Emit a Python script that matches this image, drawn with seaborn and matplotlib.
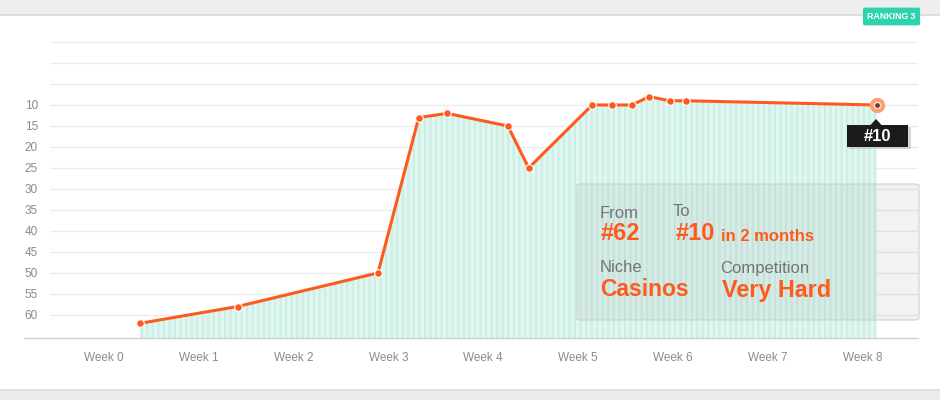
import numpy as np
import pandas as pd
import matplotlib
matplotlib.use("Agg")
import matplotlib.pyplot as plt
from matplotlib.patches import Rectangle, FancyBboxPatch, Polygon
from matplotlib.lines import Line2D
import seaborn as sns

# data (x in weeks, y = ranking position)
week_pos = [0.38, 1.41, 2.89, 3.32, 3.62, 4.26, 4.48, 5.15, 5.36, 5.57, 5.75, 5.97, 6.14, 8.15]
ranking = [62, 58, 50, 13, 12, 15, 25, 10, 10, 10, 8, 9, 9, 10]
week_ticks = list(range(9))
week_labels = ["Week " + str(w) for w in week_ticks]
rank_ticks = list(range(-5, 61, 5))
rank_labels = [str(r) if r >= 10 else "" for r in rank_ticks]

df = pd.DataFrame({"week": week_pos, "rank": ranking})

W, H = 940, 400
ORANGE = "#ff5a1e"
GREY_TXT = "#8a8a8a"

sns.set_theme(style="white")
plt.rcParams["font.family"] = ["Liberation Sans", "DejaVu Sans"]
plt.rcParams["hatch.linewidth"] = 1.6

fig = plt.figure(figsize=(W / 100, H / 100), dpi=100)


def fx(px):
    return px / W


def fy(py):
    return 1 - py / H


# axes placed in pixel coords: left 50, right 918, top 42, bottom 338
ax = fig.add_axes([fx(50), fy(338), fx(918) - fx(50), fy(42) - fy(338)])

# striped teal area under the line
ax.fill_between(df["week"], df["rank"], 65.5, facecolor="#e0f7f1",
                edgecolor="#cdeee5", hatch="|||", linewidth=0, zorder=1)

sns.lineplot(data=df, x="week", y="rank", ax=ax, color=ORANGE, lw=2.2,
             marker="o", markersize=5.5, markeredgecolor="white",
             markeredgewidth=0.8, zorder=3)

# highlighted last point
ax.plot(df["week"].iloc[-1], df["rank"].iloc[-1], "o", ms=10, color="#fc9f75",
        mec="#fc9f75", zorder=4)
ax.plot(df["week"].iloc[-1], df["rank"].iloc[-1], "o", ms=4.5, color="#86371f",
        mec="#fde3d6", mew=1, zorder=5)

ax.set_xlim(-0.57, 8.587)
ax.set_ylim(65.5, -5)
ax.set_xlabel("")
ax.set_ylabel("")

# grid
ax.set_yticks(rank_ticks)
ax.set_yticklabels(rank_labels)
ax.yaxis.grid(True, color="#ececec", lw=1)
ax.xaxis.grid(False)
ax.set_xticks(week_ticks)
ax.set_xticklabels(week_labels)
ax.tick_params(axis="y", length=0, pad=8.6, labelsize=8.5, labelcolor=GREY_TXT)
ax.tick_params(axis="x", length=0, pad=10, labelsize=8.5, labelcolor=GREY_TXT)
for side in ["top", "right", "left"]:
    ax.spines[side].set_visible(False)
ax.spines["bottom"].set_color("#cfcfcf")
ax.spines["bottom"].set_linewidth(1)

# page chrome: top & bottom grey bands
fig.add_artist(Rectangle((0, fy(15)), 1, 15 / H, transform=fig.transFigure,
                         facecolor="#eeeeee", edgecolor="none", zorder=0))
fig.add_artist(Line2D([0, 1], [fy(15), fy(15)], transform=fig.transFigure,
                      color="#d8d8d8", lw=1.2))
fig.add_artist(Rectangle((0, 0), 1, 10 / H, transform=fig.transFigure,
                         facecolor="#ececec", edgecolor="none", zorder=0))
fig.add_artist(Line2D([0, 1], [fy(390), fy(390)], transform=fig.transFigure,
                      color="#dcdcdc", lw=1.2))
# bottom rule extends left of the plot
fig.add_artist(Line2D([fx(24), fx(50)], [fy(338), fy(338)], transform=fig.transFigure,
                      color="#cfcfcf", lw=1))

# ranking badge
fig.text(fx(891.5), fy(16.5), "RANKING 3", ha="center", va="center", fontsize=6.3,
         fontweight="bold", color="white",
         bbox=dict(boxstyle="round,pad=0.5,rounding_size=0.2", fc="#2ed3ae", ec="none"))

# summary box
fig.add_artist(FancyBboxPatch((fx(577), fy(320)), fx(919) - fx(577), fy(184) - fy(320),
                              boxstyle="round,pad=0,rounding_size=0.004",
                              transform=fig.transFigure, facecolor="#9e9e9e",
                              alpha=0.13, edgecolor="none", zorder=6))
fig.add_artist(FancyBboxPatch((fx(577), fy(320)), fx(919) - fx(577), fy(184) - fy(320),
                              boxstyle="round,pad=0,rounding_size=0.004",
                              transform=fig.transFigure, facecolor="none",
                              edgecolor="#cfcfcf", lw=0.8, zorder=6))

fig.text(fx(600), fy(213), "From", ha="left", va="center", fontsize=12, color="#747474", zorder=7)
fig.text(fx(673), fy(212), "To", ha="left", va="center", fontsize=12, color="#747474", zorder=7)
fig.text(fx(601), fy(234), "#62", ha="left", va="center", fontsize=17, fontweight="bold",
         color=ORANGE, zorder=7)
fig.text(fx(676), fy(234), "#10", ha="left", va="center", fontsize=17, fontweight="bold",
         color=ORANGE, zorder=7)
fig.text(fx(721), fy(236.5), "in 2 months", ha="left", va="center", fontsize=12,
         fontweight="bold", color=ORANGE, zorder=7)
fig.text(fx(600), fy(268), "Niche", ha="left", va="center", fontsize=12, color="#747474", zorder=7)
fig.text(fx(720), fy(268), "Competition", ha="left", va="center", fontsize=12,
         color="#747474", zorder=7)
fig.text(fx(600), fy(290), "Casinos", ha="left", va="center", fontsize=16.5, fontweight="bold",
         color=ORANGE, zorder=7)
fig.text(fx(722), fy(290), "Very Hard", ha="left", va="center", fontsize=16.8, fontweight="bold",
         color=ORANGE, zorder=7)

# tooltip for last point
fig.add_artist(Rectangle((fx(849), fy(149)), fx(62), 22 / H, transform=fig.transFigure,
                         facecolor="#bbbbbb", edgecolor="none", alpha=0.6, zorder=8))
fig.add_artist(Rectangle((fx(847), fy(147)), fx(61), 22 / H, transform=fig.transFigure,
                         facecolor="#1b1b1b", edgecolor="none", zorder=9))
fig.add_artist(Polygon([(fx(870), fy(125.5)), (fx(882), fy(125.5)), (fx(876), fy(119))],
                       closed=True, transform=fig.transFigure, facecolor="#1b1b1b",
                       edgecolor="none", zorder=9))
fig.text(fx(877.5), fy(136.5), "#10", ha="center", va="center", fontsize=12,
         fontweight="bold", color="white", zorder=10)

fig.savefig("out.png", dpi=100)
